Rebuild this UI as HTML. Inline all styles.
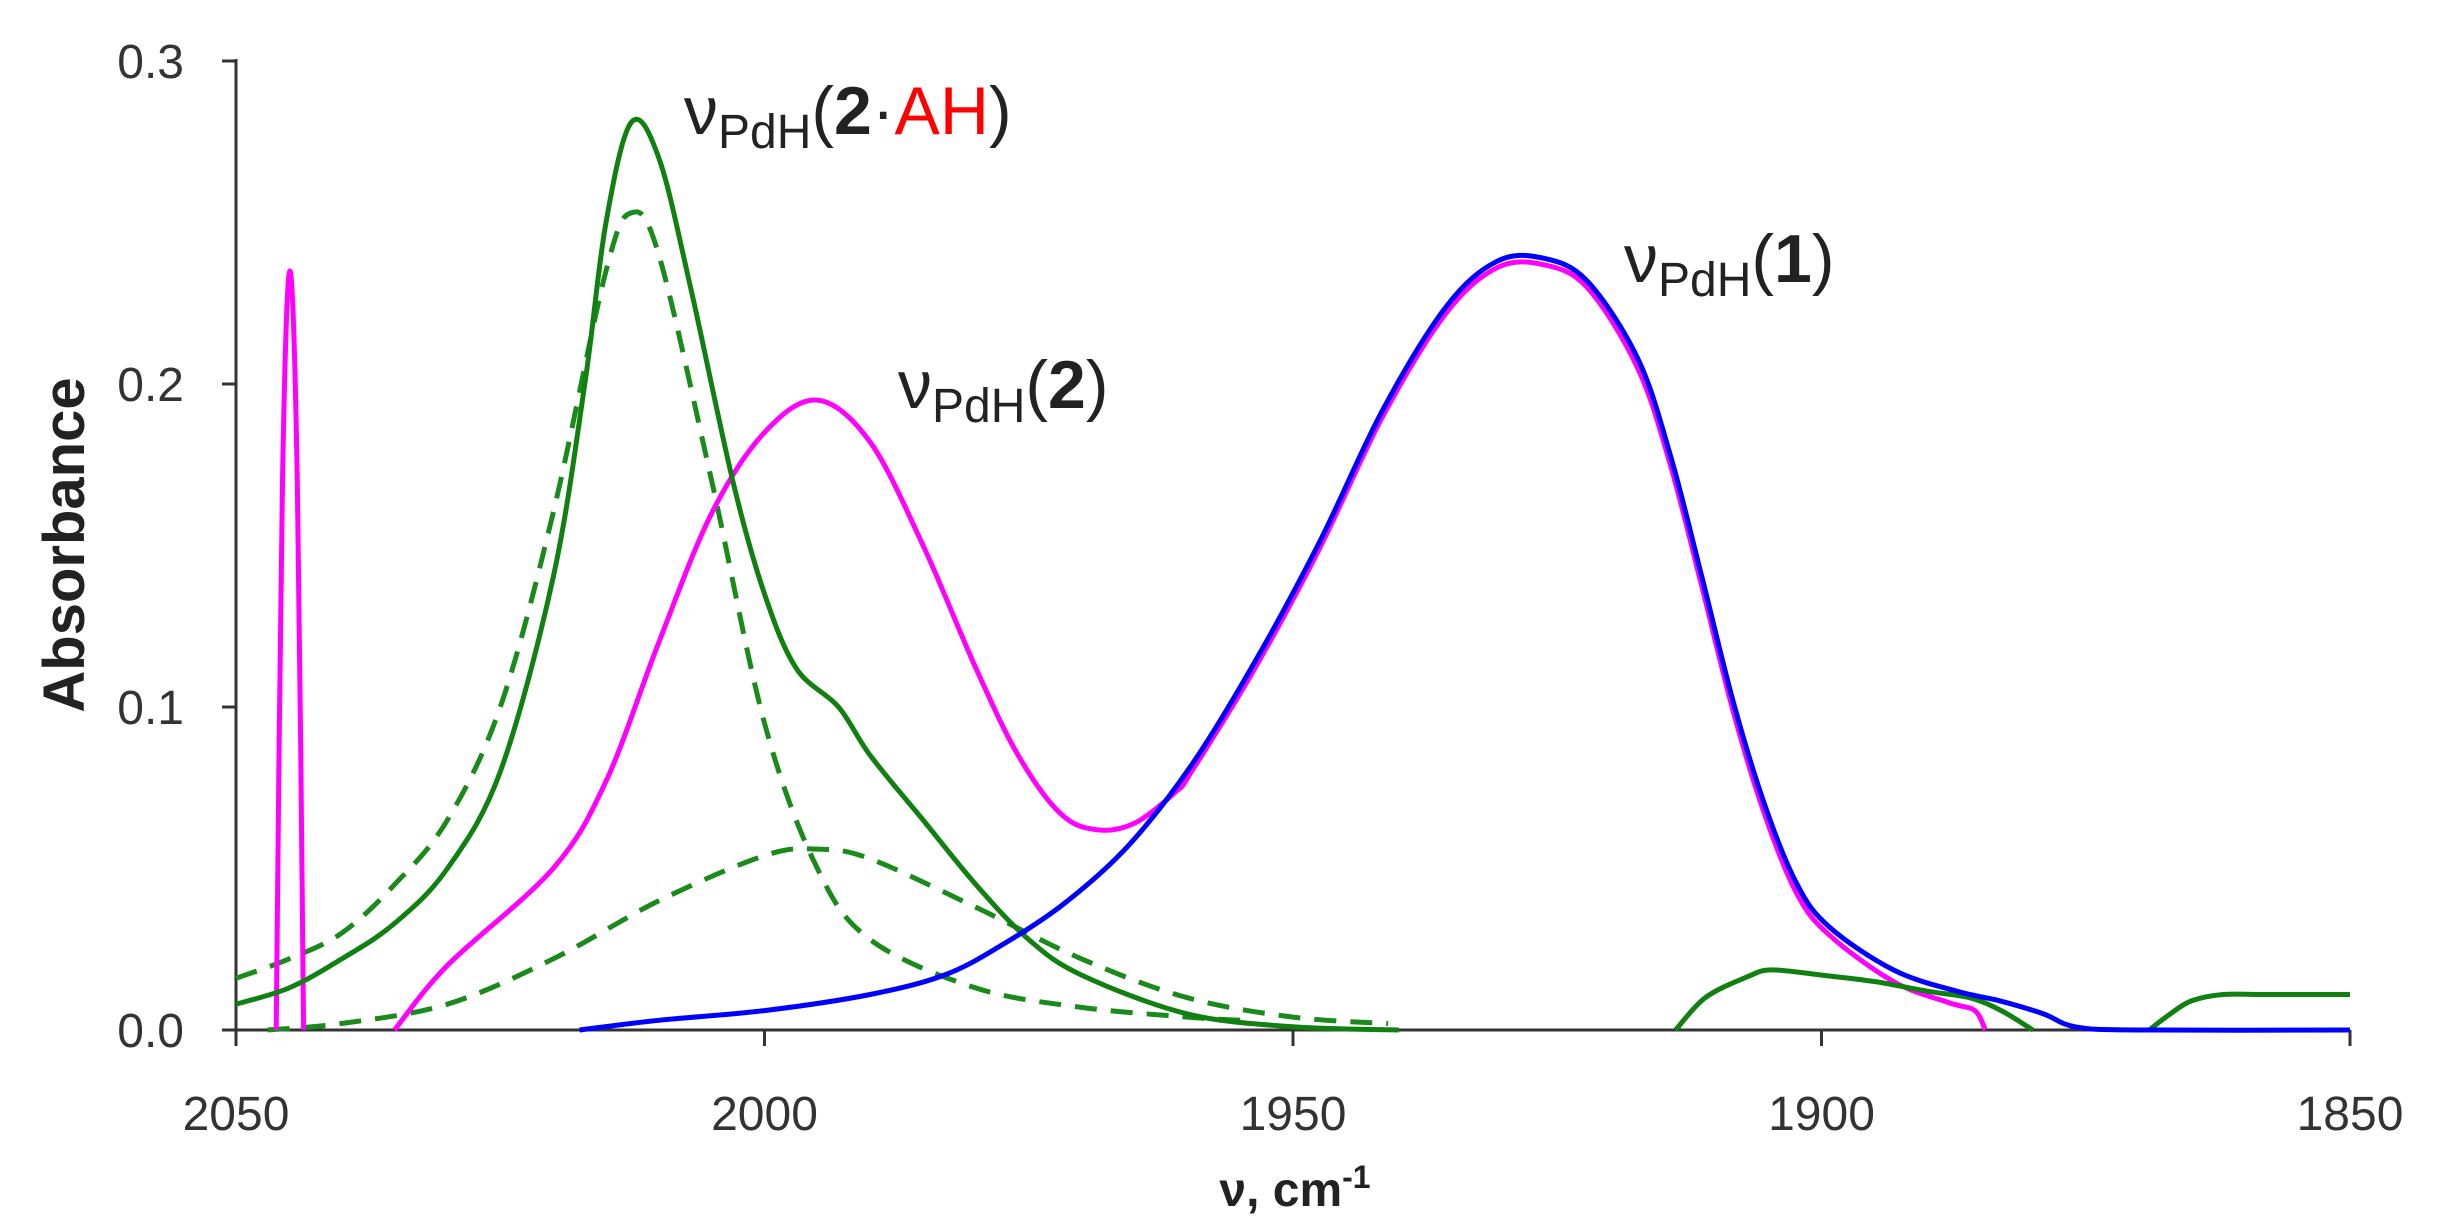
<!DOCTYPE html>
<html><head><meta charset="utf-8"><style>
body{margin:0;background:#fff}
svg{display:block}
text{font-family:"Liberation Sans","DejaVu Sans",sans-serif}
</style></head><body>
<svg id="chart" width="2437" height="1230">
<g id="axes"></g>
<g id="series"></g>
<text x="684" y="134" font-size="68" fill="#222">ν<tspan font-size="48" dy="14">PdH</tspan><tspan dy="-14">(</tspan><tspan font-weight="bold">2</tspan>·<tspan fill="#ff0000">AH</tspan>)</text>
<text x="898" y="408" font-size="68" fill="#222">ν<tspan font-size="48" dy="14">PdH</tspan><tspan dy="-14">(</tspan><tspan font-weight="bold">2</tspan>)</text>
<text x="1624" y="282" font-size="68" fill="#222">ν<tspan font-size="48" dy="14">PdH</tspan><tspan dy="-14">(</tspan><tspan font-weight="bold">1</tspan>)</text>
<text x="1295" y="1206" font-size="48" font-weight="bold" text-anchor="middle" fill="#222">ν, cm<tspan font-size="32" dy="-18">-1</tspan></text>
<text transform="translate(84,545) rotate(-90)" font-size="58" font-weight="bold" text-anchor="middle" fill="#222">Absorbance</text>
</svg>
<script>
const xTicks=[2050,2000,1950,1900,1850];
const yTicks=[0,0.1,0.2,0.3];
const yTickLabels=["0.0","0.1","0.2","0.3"];
const greenX=[2050,2045,2040,2035,2030,2025,2020,2017,2015,2012.6,2010,2007,2003,2000,1997,1993,1990,1985,1980,1975,1970,1960,1950,1940];
const greenY=[0.008,0.013,0.022,0.033,0.05,0.08,0.14,0.2,0.25,0.281,0.27,0.23,0.17,0.135,0.112,0.1,0.085,0.065,0.045,0.028,0.017,0.005,0.001,0];
const green2X=[1913.8,1911,1907,1904.7,1900,1895,1890,1886,1883,1880];
const green2Y=[0,0.01,0.0165,0.0186,0.017,0.015,0.012,0.01,0.006,0];
const green3X=[1869,1867,1865,1862,1858,1850];
const green3Y=[0,0.005,0.009,0.011,0.011,0.011];
const dash1X=[2050,2045,2040,2035,2030,2025,2020,2015,2012.6,2010,2005,2000,1995,1990,1980,1970,1960,1955];
const dash1Y=[0.016,0.022,0.03,0.045,0.065,0.1,0.16,0.235,0.253,0.24,0.17,0.095,0.05,0.028,0.013,0.007,0.004,0.003];
const dash2X=[2047,2040,2030,2020,2010,2000,1995,1990,1980,1970,1960,1950,1941];
const dash2Y=[0,0.002,0.008,0.022,0.04,0.054,0.056,0.053,0.038,0.022,0.01,0.004,0.002];
const spikeX=[2046.2,2045.6,2044.9,2044.2,2043.6];
const spikeY=[0,0.17,0.235,0.17,0];
const magX=[2035,2030,2020,2015,2010,2005,2000,1995,1990,1985,1980,1976,1972,1968.6,1965,1961,1959.6,1953.6,1947.5,1941.5,1935.5,1930.7,1926.4,1922.2,1917.4,1914.3,1911.3,1908.3,1905.3,1902.3,1899.3,1893.2,1888,1885.5,1884.5];
const magY=[0,0.02,0.05,0.077,0.12,0.16,0.185,0.195,0.182,0.15,0.112,0.085,0.067,0.062,0.064,0.074,0.08,0.112,0.149,0.19,0.222,0.236,0.237,0.23,0.205,0.175,0.137,0.098,0.066,0.042,0.0295,0.015,0.0085,0.006,0];
const blueX=[2017.5,2010,2000,1990,1983,1977.7,1971.7,1965.6,1959.6,1953.6,1947.5,1941.5,1935.5,1930.7,1926.4,1922.2,1917.4,1914.3,1911.3,1908.3,1905.3,1902.3,1899.3,1893.2,1887.2,1883.1,1879,1876,1870,1850];
const blueY=[0,0.003,0.006,0.011,0.017,0.026,0.039,0.057,0.082,0.114,0.151,0.192,0.224,0.238,0.239,0.232,0.208,0.178,0.14,0.101,0.069,0.045,0.032,0.0186,0.012,0.009,0.005,0.001,0,0];
const NS="http://www.w3.org/2000/svg";
const X0=236,X1=2350,Y0=1030,Y1=61;
function sx(v){return X0+(2050-v)/200*(X1-X0);}
function sy(v){return Y0-v/0.3*(Y0-Y1);}
function el(t,a,p){const e=document.createElementNS(NS,t);for(const k in a)e.setAttribute(k,a[k]);p.appendChild(e);return e;}
const axes=document.getElementById('axes');
let ya=el('line',{x1:X0,y1:Y0,x2:X0,y2:Y1-2,stroke:'#333','stroke-width':3},axes);


let xa=el('line',{x1:X0,y1:Y0,x2:X1,y2:Y0,stroke:'#333','stroke-width':3},axes);


yTicks.forEach((t,i)=>{
 let l=el('line',{x1:X0-14,y1:sy(t),x2:X0,y2:sy(t),stroke:'#333','stroke-width':3},axes);
 
 
 let tx=el('text',{x:X0-52,y:sy(t)+17,'font-size':48,'text-anchor':'end',fill:'#333'},axes);
 tx.textContent=yTickLabels[i];
 
 
});
xTicks.forEach(t=>{
 let l=el('line',{x1:sx(t),y1:Y0,x2:sx(t),y2:Y0+16,stroke:'#333','stroke-width':3},axes);
 
 
 let tx=el('text',{x:sx(t),y:Y0+100,'font-size':48,'text-anchor':'middle',fill:'#333'},axes);
 tx.textContent=String(t);
 
 
});
function pathD(xs,ys){
 const p=xs.map((x,i)=>[sx(x),sy(ys[i])]);
 let d='M'+p[0][0].toFixed(1)+','+p[0][1].toFixed(1);
 for(let i=0;i<p.length-1;i++){
  const a=p[i-1]||p[i],b=p[i],c=p[i+1],e=p[i+2]||c;
  const c1=[b[0]+(c[0]-a[0])/6,b[1]+(c[1]-a[1])/6],c2=[c[0]-(e[0]-b[0])/6,c[1]-(e[1]-b[1])/6];
  d+=' C'+c1.map(v=>v.toFixed(1)).join(',')+' '+c2.map(v=>v.toFixed(1)).join(',')+' '+c[0].toFixed(1)+','+c[1].toFixed(1);
 }
 return d;
}
const g=document.getElementById('series');
function draw(xs,ys,color,dash,name){
 const a={d:pathD(xs,ys),fill:'none',stroke:color,'stroke-width':5,'stroke-linejoin':'round'};
 if(dash)a['stroke-dasharray']=dash;
 const p=el('path',a,g);
 
 
}
draw(dash2X,dash2Y,'#1a8a1a','22 14','green-dashed-broad');
draw(dash1X,dash1Y,'#1a8a1a','22 14','green-dashed-narrow');
draw(spikeX,spikeY,'#ff00ff',null,'magenta-spike');
draw(magX,magY,'#ff00ff',null,'magenta-series');
draw(greenX,greenY,'#108010',null,'green-series');
draw(green2X,green2Y,'#108010',null,'green-series-bump');
draw(green3X,green3Y,'#108010',null,'green-series-tail');
draw(blueX,blueY,'#0000ff',null,'blue-series');
</script>
</body></html>
